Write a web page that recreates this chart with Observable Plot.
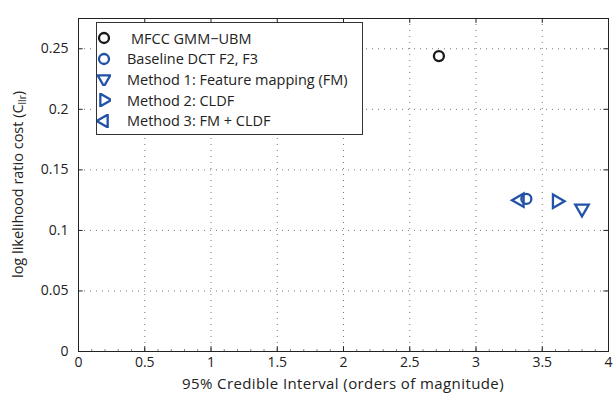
<!DOCTYPE html>
<html><head><meta charset="utf-8">
<script src="https://cdn.jsdelivr.net/npm/d3@7"></script>
<script src="https://cdn.jsdelivr.net/npm/@observablehq/plot@0.6"></script>
<style>
body{margin:0;background:#fff;font-family:"Open Sans","Noto Sans",sans-serif;}
#wrap{position:relative;width:613px;height:396px;}
#legend{position:absolute;left:96px;top:22px;width:267px;height:113px;border:1px solid #333;background:#fff;box-sizing:border-box;font-size:14.5px;color:#222;padding:5px 0 0 0;}
#legend .row{display:flex;align-items:center;height:20.6px;}
#legend svg{margin-left:0px;margin-right:16px;}
</style></head>
<body><div id="wrap"><div id="chart"></div><div id="legend"></div></div>
<script>
const names = ["MFCC GMM\u2212UBM","Baseline DCT F2, F3","Method 1: Feature mapping (FM)","Method 2: CLDF","Method 3: FM + CLDF"];
const xVals = [2.72, 3.38, 3.80, 3.61, 3.33];
const yVals = [0.244, 0.126, 0.118, 0.124, 0.125];
const symbols = ["circle","circle","triangle","triangle","triangle"];
const rotations = [0, 0, 180, 90, -90];
const colors = ["#1a1a1a","#2152a8","#2152a8","#2152a8","#2152a8"];
const xTicks = [0,0.5,1,1.5,2,2.5,3,3.5,4];
const yTicks = [0,0.05,0.1,0.15,0.2,0.25];
const xMinor = d3.range(0, 4.0001, 0.1);

const data = names.map((n,i)=>({name:n,x:xVals[i],y:yVals[i],symbol:symbols[i],rotate:rotations[i],color:colors[i]}));
const black = "#222";
const chart = Plot.plot({
  width:613, height:396,
  marginLeft:78, marginRight:5, marginTop:18, marginBottom:45,
  style:{fontFamily:'"Open Sans","Noto Sans",sans-serif', fontSize:"14px", color:black, background:"#fff"},
  x:{domain:[0,4]}, y:{domain:[0,0.275]},
  marks:[
    Plot.ruleX(xTicks.slice(1,-1), {stroke:"#777", strokeDasharray:"1,5", strokeWidth:1}),
    Plot.ruleY(yTicks.slice(1), {stroke:"#777", strokeDasharray:"1,5", strokeWidth:1}),
    Plot.ruleX(xMinor, {y1:0, y2:0.0015, stroke:black, strokeWidth:0.6}),
    Plot.ruleX(xTicks, {y1:0, y2:0.004, stroke:black, strokeWidth:1}),
    Plot.ruleX(xTicks, {y1:0.271, y2:0.275, stroke:black, strokeWidth:1}),
    Plot.ruleY(yTicks, {x1:0, x2:0.035, stroke:black, strokeWidth:1}),
    Plot.ruleY(yTicks, {x1:3.965, x2:4, stroke:black, strokeWidth:1}),
    Plot.frame({stroke:black, strokeWidth:1}),
    Plot.axisX(xTicks, {tickSize:0, tickPadding:6, label:null, fontSize:14, tickFormat:d=>String(d)}),
    Plot.axisY(yTicks, {tickSize:0, tickPadding:10, label:null, fontSize:14, tickFormat:d=>String(d)}),
    Plot.dot(data, {x:"x", y:"y", symbol:"symbol", rotate:"rotate", stroke:"color", r:5, strokeWidth:2.3, fill:"none"})
  ],
  symbol:{type:"identity"}
});
document.getElementById("chart").appendChild(chart);
const svg = d3.select(chart);
svg.append("text").attr("x", 78 + (613-5-78)/2).attr("y", 389).attr("text-anchor","middle")
  .attr("font-size",15).attr("letter-spacing","0.4px").attr("fill",black).text("95% Credible Interval (orders of magnitude)");
const yl = svg.append("text").attr("transform","translate(23,"+(18+(396-45-18)/2)+") rotate(-90)")
  .attr("text-anchor","middle").attr("font-size",14.5).attr("fill",black);
yl.append("tspan").text("log likelihood ratio cost (C");
yl.append("tspan").attr("font-size",10).attr("dy",3).text("llr");
yl.append("tspan").attr("dy",-3).text(")");

const leg = d3.select("#legend");
data.forEach((d,i)=>{
  const row = leg.append("div").attr("class","row");
  const s = row.append("svg").attr("width",14).attr("height",14);
  const p = d3.symbol(d.symbol==="circle"?d3.symbolCircle:d3.symbolTriangle, d.symbol==="circle"?78:70)();
  s.append("path").attr("d",p).attr("transform","translate(7,7) rotate("+d.rotate+")")
    .attr("fill","none").attr("stroke",d.color).attr("stroke-width",2.3);
  row.append("span").style("padding-left", i===0?"4px":"0px").text(d.name);
});
</script></body></html>
